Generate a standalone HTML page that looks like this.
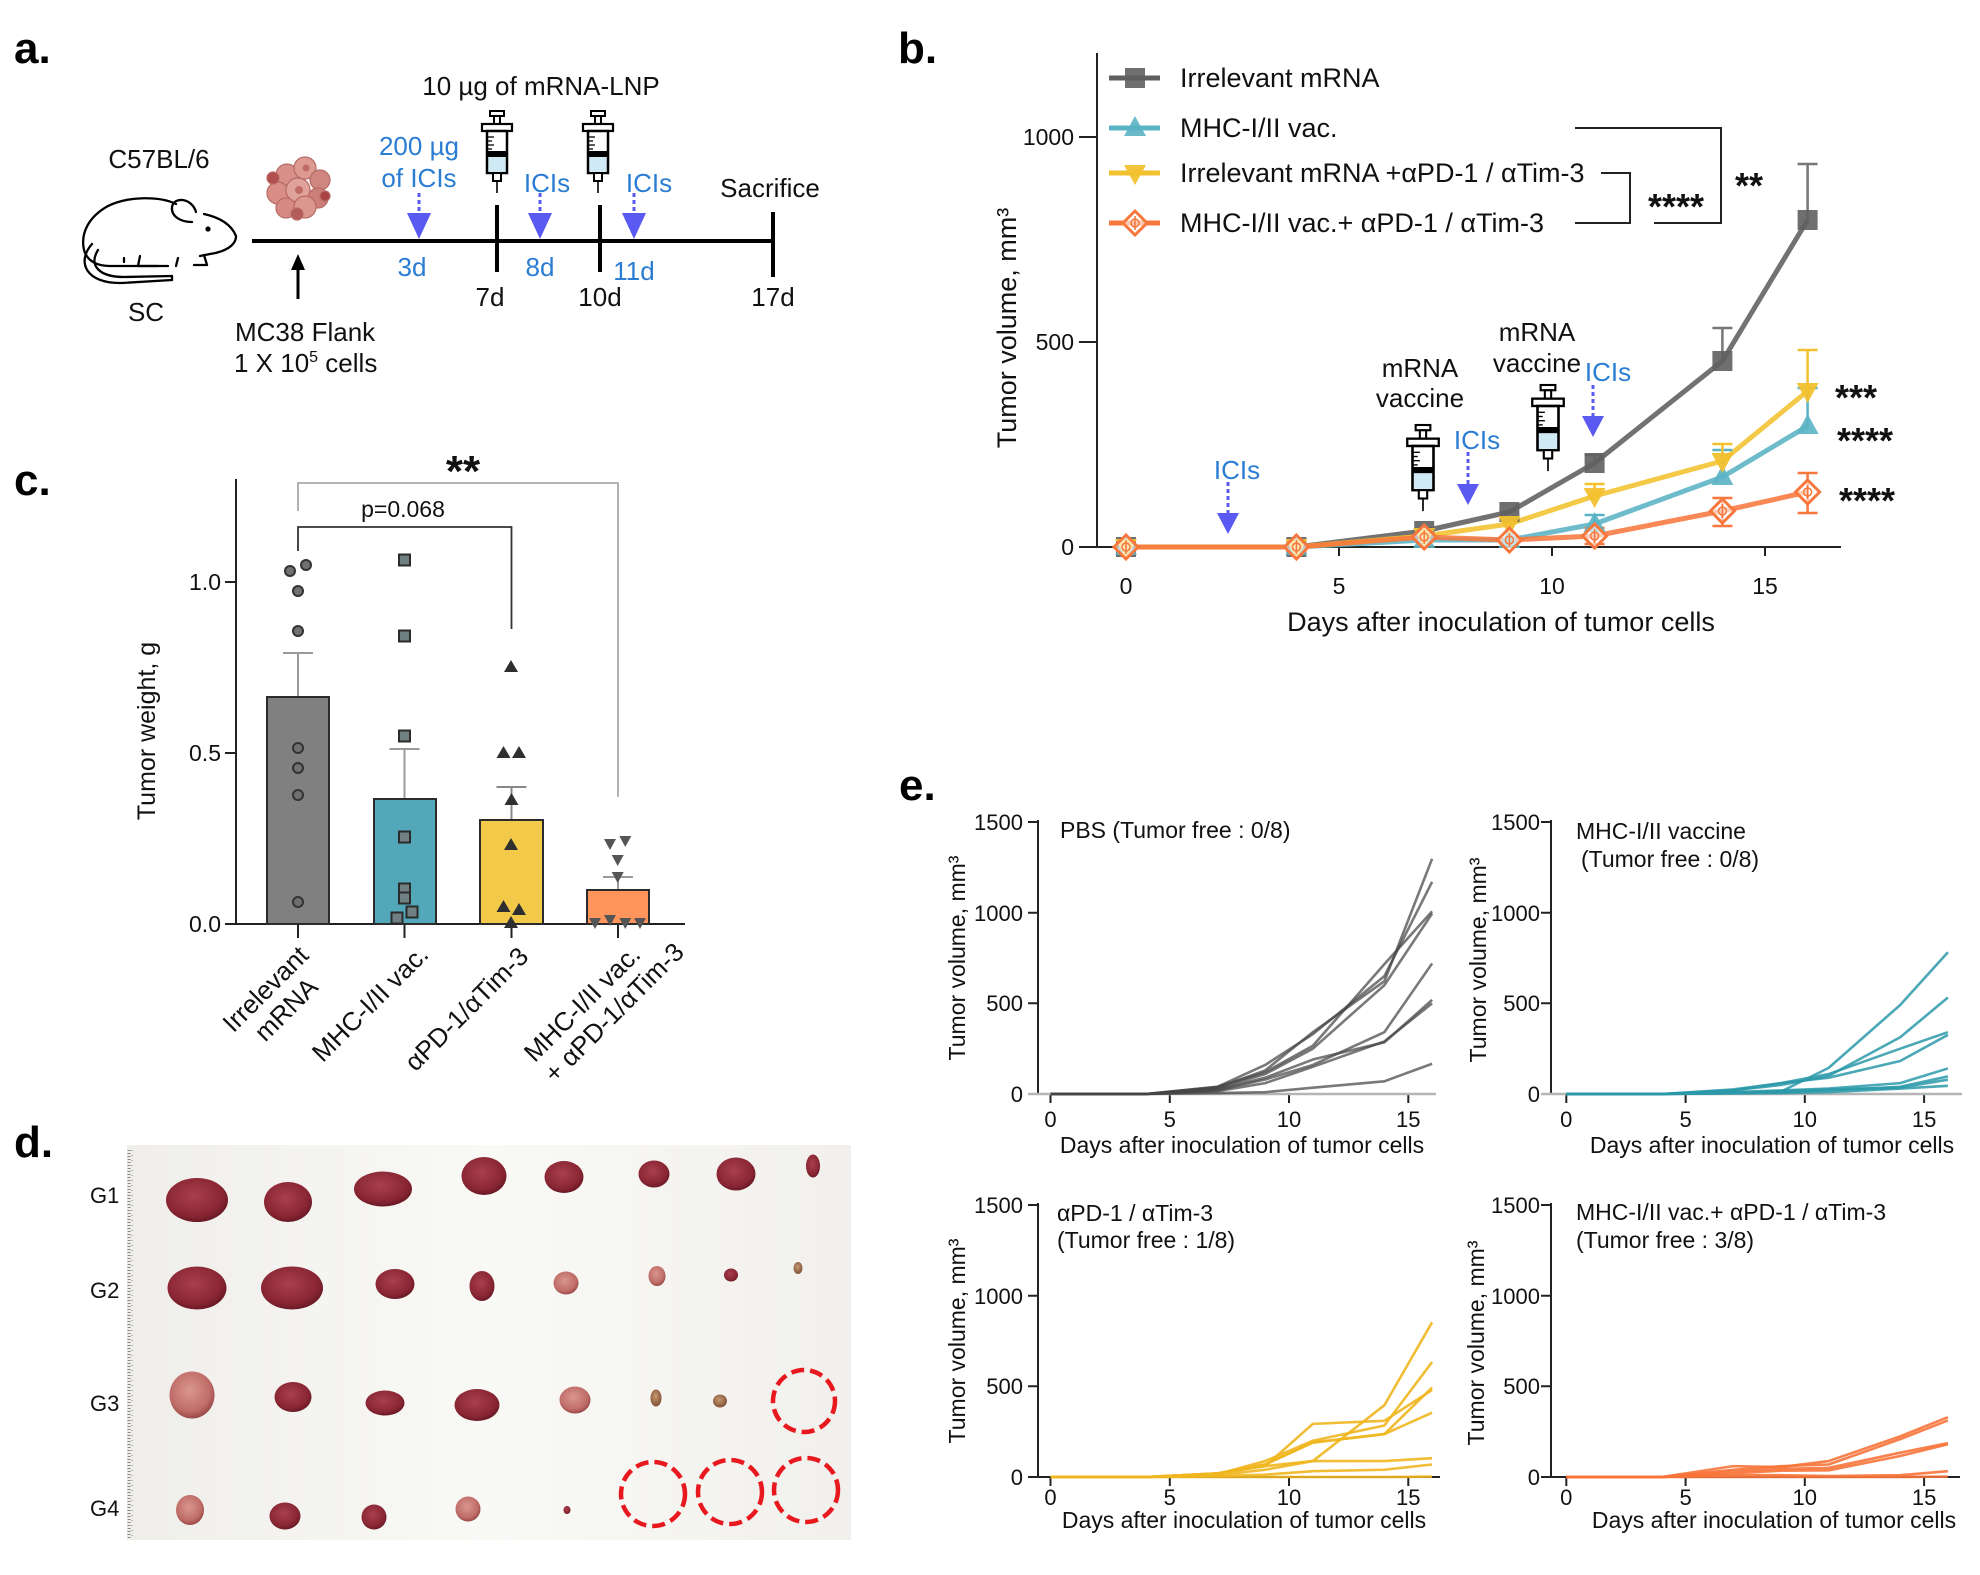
<!DOCTYPE html>
<html><head><meta charset="utf-8"><style>
html,body{margin:0;padding:0;background:#fff;}
svg{display:block;}
text{font-family:"Liberation Sans",Arial,sans-serif;}
</style></head><body>
<svg width="1980" height="1575" viewBox="0 0 1980 1575" xmlns="http://www.w3.org/2000/svg">
<defs>
  <g id="syr">
    <rect x="-7" y="0" width="14" height="5" fill="#fff" stroke="#000" stroke-width="2"/>
    <rect x="-3" y="5" width="6" height="8" fill="#fff" stroke="#000" stroke-width="2"/>
    <rect x="-15" y="13" width="30" height="7" fill="#fff" stroke="#000" stroke-width="2.2"/>
    <rect x="-10" y="20" width="20" height="42" fill="#fff" stroke="#000" stroke-width="2.5"/>
    <line x1="-9" y1="26" x2="-3" y2="26" stroke="#000" stroke-width="1.3"/>
    <line x1="-9" y1="30" x2="-5" y2="30" stroke="#000" stroke-width="1.3"/>
    <line x1="-9" y1="34" x2="-3" y2="34" stroke="#000" stroke-width="1.3"/>
    <line x1="-9" y1="38" x2="-5" y2="38" stroke="#000" stroke-width="1.3"/>
    <rect x="-10" y="40" width="20" height="6" fill="#000"/>
    <rect x="-8.5" y="46" width="17" height="15" fill="#cfe9f5"/>
    <rect x="-4" y="62" width="8" height="8" fill="#fff" stroke="#000" stroke-width="2"/>
    <line x1="0" y1="70" x2="0" y2="82" stroke="#000" stroke-width="1.6"/>
  </g>
  <rect id="mSq" x="-10" y="-10" width="20" height="20" fill="#5f5f5f" fill-opacity="0.9"/>
  <polygon id="mTri" points="0,-12 -11,8 11,8" fill="#5ab3c4" fill-opacity="0.9"/>
  <polygon id="mInv" points="-11,-8 11,-8 0,12" fill="#f2c12e" fill-opacity="0.95"/>
  <g id="mDia">
    <polygon points="0,-12 12,0 0,12 -12,0" fill="#fff" fill-opacity="0.6" stroke="#f7773d" stroke-width="3"/>
    <circle cx="0" cy="0" r="4" fill="none" stroke="#f7773d" stroke-width="1.5"/>
    <line x1="0" y1="-7" x2="0" y2="7" stroke="#f7773d" stroke-width="1.5"/>
  </g>
  <circle id="cC" r="5" fill="#707070" stroke="#333" stroke-width="2"/>
  <rect id="cS" x="-5.5" y="-5.5" width="11" height="11" fill="#6f7f82" stroke="#2b2b2b" stroke-width="2"/>
  <polygon id="cT" points="0,-7 -7,5 7,5" fill="#2f2f2f"/>
  <polygon id="cI" points="-6,-5 6,-5 0,6" fill="#555"/>
  <radialGradient id="tum" cx="0.45" cy="0.4" r="0.65">
    <stop offset="0" stop-color="#a8404d"/><stop offset="0.7" stop-color="#8a2634"/><stop offset="1" stop-color="#5e1520"/>
  </radialGradient>
  <radialGradient id="tumP" cx="0.45" cy="0.4" r="0.65">
    <stop offset="0" stop-color="#d9978d"/><stop offset="0.7" stop-color="#bf6c68"/><stop offset="1" stop-color="#8e3c3c"/>
  </radialGradient>
  <radialGradient id="tumB" cx="0.45" cy="0.4" r="0.65">
    <stop offset="0" stop-color="#c89a70"/><stop offset="1" stop-color="#7a4a30"/>
  </radialGradient>
  <linearGradient id="bg" x1="0" y1="0" x2="1" y2="0">
    <stop offset="0" stop-color="#efeeea"/><stop offset="0.5" stop-color="#f9f9f6"/><stop offset="1" stop-color="#f1f0ec"/>
  </linearGradient>
</defs>

<!-- ============ Panel labels ============ -->
<g font-weight="bold" font-size="44" fill="#000">
  <text x="14" y="63">a.</text>
  <text x="898" y="63">b.</text>
  <text x="14" y="495">c.</text>
  <text x="14" y="1157">d.</text>
  <text x="899" y="800">e.</text>
</g>

<!-- ============ Panel a ============ -->
<g font-size="26" fill="#111">
  <text x="541" y="95" text-anchor="middle">10 µg of mRNA-LNP</text>
  <text x="159" y="168" text-anchor="middle">C57BL/6</text>
  <text x="146" y="321" text-anchor="middle">SC</text>
  <text x="235" y="341">MC38 Flank</text>
  <text x="234" y="372">1 X 10<tspan dy="-10" font-size="16">5</tspan><tspan dy="10"> cells</tspan></text>
  <text x="490" y="306" text-anchor="middle">7d</text>
  <text x="600" y="306" text-anchor="middle">10d</text>
  <text x="773" y="306" text-anchor="middle">17d</text>
  <text x="770" y="197" text-anchor="middle">Sacrifice</text>
</g>
<g font-size="26" fill="#2a7dd2">
  <text x="419" y="155" text-anchor="middle">200 µg</text>
  <text x="419" y="187" text-anchor="middle">of ICIs</text>
  <text x="412" y="276" text-anchor="middle">3d</text>
  <text x="547" y="192" text-anchor="middle">ICIs</text>
  <text x="540" y="276" text-anchor="middle">8d</text>
  <text x="649" y="192" text-anchor="middle">ICIs</text>
  <text x="634" y="280" text-anchor="middle">11d</text>
</g>
<!-- timeline -->
<line x1="252" y1="241" x2="773" y2="241" stroke="#000" stroke-width="4"/>
<line x1="497" y1="205" x2="497" y2="272" stroke="#000" stroke-width="4"/>
<line x1="600" y1="205" x2="600" y2="272" stroke="#000" stroke-width="4"/>
<line x1="773" y1="212" x2="773" y2="277" stroke="#000" stroke-width="4"/>
<line x1="298" y1="299" x2="298" y2="268" stroke="#000" stroke-width="3"/>
<polygon points="291,270 305,270 298,254" fill="#000"/>
<!-- ICI arrows panel a -->
<g stroke="#5a5af2" stroke-width="3" stroke-dasharray="4 3">
  <line x1="419" y1="193" x2="419" y2="214"/>
  <line x1="540" y1="193" x2="540" y2="214"/>
  <line x1="634" y1="193" x2="634" y2="214"/>
</g>
<g fill="#5a5af2">
  <polygon points="407,213 431,213 419,239"/>
  <polygon points="528,213 552,213 540,239"/>
  <polygon points="622,213 646,213 634,239"/>
</g>
<use href="#syr" x="497" y="111"/>
<use href="#syr" x="598" y="111"/>
<!-- mouse -->
<g fill="none" stroke="#000" stroke-width="2.3" stroke-linecap="round" stroke-linejoin="round">
  <path d="M236,236 C232,226 222,218 204,214"/>
  <path d="M196,212 C192,198 174,196 172,207 C171,216 180,222 192,222"/>
  <path d="M176,204 C160,196 128,196 108,206 C90,216 80,232 84,250 C87,261 97,266 110,266 L168,266"/>
  <path d="M236,236 C236,246 224,252 210,254 L200,256"/>
  <path d="M204,255 L207,265 L194,265"/>
  <path d="M178,258 L176,266"/>
  <path d="M140,256 L138,266 L158,266"/>
  <path d="M124,262 L124,258"/>
  <path d="M92,244 C76,262 86,284 122,283 L172,280"/>
  <path d="M98,250 C88,266 100,277 124,277 L172,276"/>
  <path d="M172,276 L172,280"/>
</g>
<circle cx="208" cy="229" r="2.6" fill="#000"/>
<!-- cells -->
<g stroke="#b86a66" stroke-width="1.2">
  <circle cx="287" cy="175" r="11" fill="#d69089"/>
  <circle cx="305" cy="168" r="11" fill="#dc9a92"/>
  <circle cx="320" cy="180" r="10" fill="#cf8580"/>
  <circle cx="278" cy="193" r="11" fill="#d88d86"/>
  <circle cx="298" cy="190" r="12" fill="#e0a39b"/>
  <circle cx="318" cy="198" r="10" fill="#cc7f79"/>
  <circle cx="286" cy="208" r="10" fill="#d48a83"/>
  <circle cx="305" cy="207" r="11" fill="#db978f"/>
  <circle cx="297" cy="214" r="6" fill="#b45c58"/>
  <circle cx="273" cy="178" r="6" fill="#b3504f"/>
  <circle cx="325" cy="196" r="5" fill="#a8433f"/>
  <circle cx="299" cy="190" r="4" fill="#c06b66" stroke="none"/>
  <circle cx="306" cy="168" r="3.5" fill="#c06b66" stroke="none"/>
</g>

<!-- ============ Panel b ============ -->
<g stroke="#222" stroke-width="2" fill="none">
  <line x1="1097" y1="53" x2="1097" y2="547"/>
  <line x1="1079" y1="547" x2="1841" y2="547"/>
  <line x1="1079" y1="137" x2="1097" y2="137"/>
  <line x1="1079" y1="342" x2="1097" y2="342"/>
  <line x1="1126" y1="547" x2="1126" y2="556"/>
  <line x1="1339" y1="547" x2="1339" y2="556"/>
  <line x1="1552" y1="547" x2="1552" y2="556"/>
  <line x1="1765" y1="547" x2="1765" y2="556"/>
</g>
<g font-size="23" fill="#111">
  <text x="1074" y="145" text-anchor="end">1000</text>
  <text x="1074" y="350" text-anchor="end">500</text>
  <text x="1074" y="555" text-anchor="end">0</text>
  <text x="1126" y="594" text-anchor="middle">0</text>
  <text x="1339" y="594" text-anchor="middle">5</text>
  <text x="1552" y="594" text-anchor="middle">10</text>
  <text x="1765" y="594" text-anchor="middle">15</text>
</g>
<text x="1501" y="631" font-size="27" text-anchor="middle" fill="#111">Days after inoculation of tumor cells</text>
<text transform="translate(1016,328) rotate(-90)" font-size="27" text-anchor="middle" fill="#111">Tumor volume, mm³</text>
<!-- legend -->
<g stroke-width="5">
  <line x1="1109" y1="78" x2="1160" y2="78" stroke="#5f5f5f"/>
  <line x1="1109" y1="128" x2="1160" y2="128" stroke="#5ab3c4"/>
  <line x1="1109" y1="173" x2="1160" y2="173" stroke="#f2c12e"/>
  <line x1="1109" y1="223" x2="1160" y2="223" stroke="#f7773d"/>
</g>
<use href="#mSq" x="1135" y="78"/>
<use href="#mTri" x="1135" y="128"/>
<use href="#mInv" x="1135" y="173"/>
<use href="#mDia" x="1135" y="223"/>
<g font-size="27" fill="#111">
  <text x="1180" y="87">Irrelevant mRNA</text>
  <text x="1180" y="137">MHC-I/II vac.</text>
  <text x="1180" y="182">Irrelevant mRNA +αPD-1 / αTim-3</text>
  <text x="1180" y="232">MHC-I/II vac.+ αPD-1 / αTim-3</text>
</g>
<g stroke="#222" stroke-width="2" fill="none">
  <path d="M1575,128 H1721 V223 H1654"/>
  <path d="M1601,173 H1630 V223 H1575"/>
</g>
<g font-size="36" font-weight="bold" fill="#111">
  <text x="1676" y="219" text-anchor="middle">****</text>
  <text x="1749" y="198" text-anchor="middle">**</text>
  <text x="1835" y="410">***</text>
  <text x="1837" y="453">****</text>
  <text x="1839" y="513">****</text>
</g>
<!-- annotations -->
<g font-size="26" fill="#111">
  <text x="1420" y="377" text-anchor="middle">mRNA</text>
  <text x="1420" y="407" text-anchor="middle">vaccine</text>
  <text x="1537" y="341" text-anchor="middle">mRNA</text>
  <text x="1537" y="372" text-anchor="middle">vaccine</text>
</g>
<g font-size="26" fill="#2a7dd2">
  <text x="1237" y="479" text-anchor="middle">ICIs</text>
  <text x="1477" y="449" text-anchor="middle">ICIs</text>
  <text x="1608" y="381" text-anchor="middle">ICIs</text>
</g>
<g stroke="#5a5af2" stroke-width="3" stroke-dasharray="4 3">
  <line x1="1228" y1="482" x2="1228" y2="514"/>
  <line x1="1468" y1="452" x2="1468" y2="485"/>
  <line x1="1593" y1="385" x2="1593" y2="417"/>
</g>
<g fill="#5a5af2">
  <polygon points="1217,513 1239,513 1228,534"/>
  <polygon points="1457,484 1479,484 1468,505"/>
  <polygon points="1582,416 1604,416 1593,437"/>
</g>
<use href="#syr" transform="translate(1423,425) scale(1.05)"/>
<use href="#syr" transform="translate(1548,385) scale(1.05)"/>
<!-- series lines -->
<g fill="none" stroke-width="5" stroke-linejoin="round" stroke-opacity="0.88">
  <polyline stroke="#5f5f5f" points="1126,547 1296.4,547 1424.2,531 1509.4,512 1594.6,463 1722.4,361 1807.6,220"/>
  <polyline stroke="#5ab3c4" points="1126,547 1296.4,547 1424.2,540 1509.4,540 1594.6,524 1722.4,477 1807.6,426"/>
  <polyline stroke="#f2c12e" points="1126,547 1296.4,547 1424.2,536 1509.4,524 1594.6,496 1722.4,461 1807.6,391"/>
  <polyline stroke="#f7773d" points="1126,547 1296.4,547 1424.2,537 1509.4,540 1594.6,536 1722.4,511 1807.6,492"/>
</g>
<!-- error bars -->
<g fill="none" stroke-width="2.5">
  <path stroke="#777" d="M1594.6,463V455M1584.6,455H1604.6 M1722.4,361V328M1712.4,328H1732.4 M1807.6,220V164M1797.6,164H1817.6"/>
  <path stroke="#5ab3c4" d="M1594.6,524V515M1584.6,515H1604.6 M1722.4,477V450M1712.4,450H1732.4 M1807.6,426V388M1797.6,388H1817.6"/>
  <path stroke="#f2c12e" d="M1594.6,496V484M1584.6,484H1604.6 M1722.4,461V444M1712.4,444H1732.4 M1807.6,391V350M1797.6,350H1817.6"/>
  <path stroke="#f7773d" d="M1594.6,528V544M1584.6,528H1604.6M1584.6,544H1604.6 M1722.4,498V526M1712.4,498H1732.4M1712.4,526H1732.4 M1807.6,473V513M1797.6,473H1817.6M1797.6,513H1817.6"/>
</g>
<!-- markers -->
<use href="#mSq" x="1126" y="547"/><use href="#mSq" x="1296.4" y="547"/><use href="#mSq" x="1424.2" y="531"/><use href="#mSq" x="1509.4" y="512"/><use href="#mSq" x="1594.6" y="463"/><use href="#mSq" x="1722.4" y="361"/><use href="#mSq" x="1807.6" y="220"/>
<use href="#mTri" x="1126" y="547"/><use href="#mTri" x="1296.4" y="547"/><use href="#mTri" x="1424.2" y="540"/><use href="#mTri" x="1509.4" y="540"/><use href="#mTri" x="1594.6" y="524"/><use href="#mTri" x="1722.4" y="477"/><use href="#mTri" x="1807.6" y="426"/>
<use href="#mInv" x="1126" y="547"/><use href="#mInv" x="1296.4" y="547"/><use href="#mInv" x="1424.2" y="536"/><use href="#mInv" x="1509.4" y="524"/><use href="#mInv" x="1594.6" y="496"/><use href="#mInv" x="1722.4" y="461"/><use href="#mInv" x="1807.6" y="391"/>
<use href="#mDia" x="1126" y="547"/><use href="#mDia" x="1296.4" y="547"/><use href="#mDia" x="1424.2" y="537"/><use href="#mDia" x="1509.4" y="540"/><use href="#mDia" x="1594.6" y="536"/><use href="#mDia" x="1722.4" y="511"/><use href="#mDia" x="1807.6" y="492"/>

<!-- ============ Panel c ============ -->
<g stroke="#222" stroke-width="2" fill="none">
  <line x1="236" y1="479" x2="236" y2="924"/>
  <line x1="236" y1="924" x2="685" y2="924"/>
  <line x1="225" y1="582" x2="236" y2="582"/>
  <line x1="225" y1="753" x2="236" y2="753"/>
  <line x1="225" y1="924" x2="236" y2="924"/>
  <line x1="298" y1="924" x2="298" y2="938"/>
  <line x1="404.5" y1="924" x2="404.5" y2="938"/>
  <line x1="511.5" y1="924" x2="511.5" y2="938"/>
  <line x1="618" y1="924" x2="618" y2="938"/>
</g>
<g font-size="23" fill="#111">
  <text x="221" y="590" text-anchor="end">1.0</text>
  <text x="221" y="761" text-anchor="end">0.5</text>
  <text x="221" y="932" text-anchor="end">0.0</text>
  <text x="403" y="517" text-anchor="middle">p=0.068</text>
</g>
<text transform="translate(155,731) rotate(-90)" font-size="25" text-anchor="middle" fill="#111">Tumor weight, g</text>
<!-- error bars c -->
<g stroke="#9a9a9a" stroke-width="2" fill="none">
  <path d="M298,697V653M283,653H313"/>
  <path d="M404.5,799V749M389.5,749H419.5"/>
  <path d="M511.5,820V787M496.5,787H526.5" stroke="#888"/>
  <path d="M618,890V877M603,877H633"/>
</g>
<!-- bars -->
<g stroke="#2b2b2b" stroke-width="2">
  <rect x="267" y="697" width="62" height="227" fill="#808080"/>
  <rect x="374" y="799" width="62" height="125" fill="#52a7b8"/>
  <rect x="480" y="820" width="63" height="104" fill="#f3c94a"/>
  <rect x="587" y="890" width="62" height="34" fill="#ff955a"/>
</g>
<!-- brackets c -->
<path d="M298,551 V527 H511.5 V629" fill="none" stroke="#333" stroke-width="1.8"/>
<path d="M298,511 V483 H618 V797" fill="none" stroke="#aaa" stroke-width="1.8"/>
<text x="463" y="486" font-size="44" font-weight="bold" text-anchor="middle" fill="#111">**</text>
<!-- points c -->
<use href="#cC" x="290" y="571"/><use href="#cC" x="306" y="565"/><use href="#cC" x="298" y="591"/><use href="#cC" x="298" y="631"/><use href="#cC" x="298" y="748"/><use href="#cC" x="298" y="768"/><use href="#cC" x="298" y="795"/><use href="#cC" x="298" y="902"/>
<use href="#cS" x="404.5" y="560"/><use href="#cS" x="404.5" y="636"/><use href="#cS" x="404.5" y="736"/><use href="#cS" x="404.5" y="837"/><use href="#cS" x="404.5" y="889"/><use href="#cS" x="404.5" y="898"/><use href="#cS" x="397" y="918"/><use href="#cS" x="412" y="912"/>
<use href="#cT" x="511" y="667"/><use href="#cT" x="503.5" y="753"/><use href="#cT" x="519" y="753"/><use href="#cT" x="511.5" y="800"/><use href="#cT" x="511" y="845"/><use href="#cT" x="503.5" y="907"/><use href="#cT" x="519" y="910"/><use href="#cT" x="511" y="923"/>
<use href="#cI" x="610" y="844"/><use href="#cI" x="625.3" y="841"/><use href="#cI" x="617.7" y="860"/><use href="#cI" x="617.7" y="877"/><use href="#cI" x="595" y="923"/><use href="#cI" x="610" y="920"/><use href="#cI" x="625.3" y="923"/><use href="#cI" x="640" y="923"/>
<!-- x labels c -->
<g font-size="26" fill="#111">
  <g transform="translate(310,957) rotate(-45)">
    <text x="0" y="0" text-anchor="end">Irrelevant</text>
    <text x="-54" y="29" text-anchor="middle">mRNA</text>
  </g>
  <text transform="translate(430,956) rotate(-45)" text-anchor="end">MHC-I/II vac.</text>
  <text transform="translate(530,958) rotate(-45)" text-anchor="end">αPD-1/αTim-3</text>
  <g transform="translate(642,956) rotate(-45)">
    <text x="0" y="0" text-anchor="end">MHC-I/II vac.</text>
    <text x="-152" y="29" text-anchor="start">+ αPD-1/αTim-3</text>
  </g>
</g>

<!-- ============ Panel d ============ -->
<rect x="127" y="1145" width="724" height="395" fill="url(#bg)"/>
<line x1="129" y1="1150" x2="129" y2="1538" stroke="#888" stroke-width="3" stroke-dasharray="1 2"/>
<line x1="132" y1="1150" x2="132" y2="1538" stroke="#aaa" stroke-width="1.5" stroke-dasharray="1 4"/>
<g font-size="22" fill="#111">
  <text x="90" y="1203">G1</text>
  <text x="90" y="1298">G2</text>
  <text x="90" y="1411">G3</text>
  <text x="90" y="1516">G4</text>
</g>
<g>
  <ellipse cx="197" cy="1200" rx="31" ry="22" fill="url(#tum)"/>
  <ellipse cx="288" cy="1202" rx="24" ry="20" fill="url(#tum)"/>
  <ellipse cx="383" cy="1189" rx="29" ry="17.5" fill="url(#tum)"/>
  <ellipse cx="484" cy="1176" rx="22.5" ry="19" fill="url(#tum)"/>
  <ellipse cx="564" cy="1177" rx="19.5" ry="16" fill="url(#tum)"/>
  <ellipse cx="654" cy="1174" rx="15.5" ry="13.5" fill="url(#tum)"/>
  <ellipse cx="736" cy="1174" rx="19.5" ry="16.5" fill="url(#tum)"/>
  <ellipse cx="813" cy="1166" rx="7" ry="11.5" fill="url(#tum)"/>

  <ellipse cx="197" cy="1288" rx="29.5" ry="21.5" fill="url(#tum)"/>
  <ellipse cx="292" cy="1288" rx="31" ry="21.5" fill="url(#tum)"/>
  <ellipse cx="395" cy="1284" rx="19.5" ry="15" fill="url(#tum)"/>
  <ellipse cx="482" cy="1286" rx="12.5" ry="15" fill="url(#tum)"/>
  <ellipse cx="566" cy="1283" rx="12.5" ry="11.5" fill="url(#tumP)"/>
  <ellipse cx="657" cy="1276" rx="8.5" ry="10" fill="url(#tumP)"/>
  <ellipse cx="731" cy="1275" rx="7" ry="6.5" fill="url(#tum)"/>
  <ellipse cx="798" cy="1268" rx="4.5" ry="6" fill="url(#tumB)"/>

  <ellipse cx="192" cy="1395" rx="22.5" ry="23.5" fill="url(#tumP)"/>
  <ellipse cx="293" cy="1397" rx="18.5" ry="15" fill="url(#tum)"/>
  <ellipse cx="385" cy="1403" rx="19.5" ry="12.5" fill="url(#tum)"/>
  <ellipse cx="477" cy="1405" rx="22.5" ry="16" fill="url(#tum)"/>
  <ellipse cx="575" cy="1400" rx="15.5" ry="13.5" fill="url(#tumP)"/>
  <ellipse cx="656" cy="1398" rx="5.5" ry="8.5" fill="url(#tumB)"/>
  <ellipse cx="720" cy="1401" rx="7" ry="6.5" fill="url(#tumB)"/>

  <ellipse cx="190" cy="1510" rx="14" ry="15" fill="url(#tumP)"/>
  <ellipse cx="285" cy="1516" rx="15.5" ry="13.5" fill="url(#tum)"/>
  <ellipse cx="374" cy="1517" rx="12.5" ry="12.5" fill="url(#tum)"/>
  <ellipse cx="468" cy="1509" rx="12.5" ry="12.5" fill="url(#tumP)"/>
  <ellipse cx="567" cy="1510" rx="3.5" ry="4" fill="url(#tum)"/>
</g>
<g fill="none" stroke="#e8191e" stroke-width="4.5" stroke-dasharray="13 6">
  <circle cx="804" cy="1401" r="31"/>
  <circle cx="653" cy="1494" r="32"/>
  <circle cx="730" cy="1492" r="32"/>
  <circle cx="806" cy="1490" r="32"/>
</g>

<!-- ============ Panel e ============ -->
<!-- axes -->
<g stroke="#222" stroke-width="2" fill="none">
  <!-- top-left -->
  <line x1="1038" y1="820" x2="1038" y2="1094"/>
  <path d="M1028,822H1038M1028,912.7H1038M1028,1003.3H1038"/>
  <path d="M1050.5,1094V1103M1169.8,1094V1103M1289,1094V1103M1408.3,1094V1103"/>
  <!-- top-right -->
  <line x1="1551" y1="820" x2="1551" y2="1094"/>
  <path d="M1541,822H1551M1541,912.7H1551M1541,1003.3H1551"/>
  <path d="M1566.3,1094V1103M1685.6,1094V1103M1804.8,1094V1103M1924.1,1094V1103"/>
  <!-- bottom-left -->
  <line x1="1038" y1="1203" x2="1038" y2="1477"/>
  <path d="M1028,1205H1038M1028,1295.7H1038M1028,1386.3H1038"/>
  <line x1="1028" y1="1477" x2="1440" y2="1477"/>
  <path d="M1050.5,1477V1486M1169.8,1477V1486M1289,1477V1486M1408.3,1477V1486"/>
  <!-- bottom-right -->
  <line x1="1551" y1="1203" x2="1551" y2="1477"/>
  <path d="M1541,1205H1551M1541,1295.7H1551M1541,1386.3H1551"/>
  <line x1="1541" y1="1477" x2="1960" y2="1477"/>
  <path d="M1566.3,1477V1486M1685.6,1477V1486M1804.8,1477V1486M1924.1,1477V1486"/>
</g>
<line x1="1028" y1="1094" x2="1436" y2="1094" stroke="#b5b5b5" stroke-width="2.5"/>
<line x1="1541" y1="1094" x2="1962" y2="1094" stroke="#b5b5b5" stroke-width="2.5"/>
<g font-size="22" fill="#111">
  <text x="1023" y="830" text-anchor="end">1500</text><text x="1023" y="921" text-anchor="end">1000</text><text x="1023" y="1011" text-anchor="end">500</text><text x="1023" y="1102" text-anchor="end">0</text>
  <text x="1540" y="830" text-anchor="end">1500</text><text x="1540" y="921" text-anchor="end">1000</text><text x="1540" y="1011" text-anchor="end">500</text><text x="1540" y="1102" text-anchor="end">0</text>
  <text x="1023" y="1213" text-anchor="end">1500</text><text x="1023" y="1304" text-anchor="end">1000</text><text x="1023" y="1394" text-anchor="end">500</text><text x="1023" y="1485" text-anchor="end">0</text>
  <text x="1540" y="1213" text-anchor="end">1500</text><text x="1540" y="1304" text-anchor="end">1000</text><text x="1540" y="1394" text-anchor="end">500</text><text x="1540" y="1485" text-anchor="end">0</text>

  <text x="1050.5" y="1127" text-anchor="middle">0</text><text x="1169.8" y="1127" text-anchor="middle">5</text><text x="1289" y="1127" text-anchor="middle">10</text><text x="1408.3" y="1127" text-anchor="middle">15</text>
  <text x="1566.3" y="1127" text-anchor="middle">0</text><text x="1685.6" y="1127" text-anchor="middle">5</text><text x="1804.8" y="1127" text-anchor="middle">10</text><text x="1924.1" y="1127" text-anchor="middle">15</text>
  <text x="1050.5" y="1505" text-anchor="middle">0</text><text x="1169.8" y="1505" text-anchor="middle">5</text><text x="1289" y="1505" text-anchor="middle">10</text><text x="1408.3" y="1505" text-anchor="middle">15</text>
  <text x="1566.3" y="1505" text-anchor="middle">0</text><text x="1685.6" y="1505" text-anchor="middle">5</text><text x="1804.8" y="1505" text-anchor="middle">10</text><text x="1924.1" y="1505" text-anchor="middle">15</text>
</g>
<g font-size="23" fill="#111">
  <text x="1242" y="1153" text-anchor="middle">Days after inoculation of tumor cells</text>
  <text x="1772" y="1153" text-anchor="middle">Days after inoculation of tumor cells</text>
  <text x="1244" y="1528" text-anchor="middle">Days after inoculation of tumor cells</text>
  <text x="1774" y="1528" text-anchor="middle">Days after inoculation of tumor cells</text>
  <text transform="translate(965,958) rotate(-90)" text-anchor="middle">Tumor volume, mm³</text>
  <text transform="translate(1486,960) rotate(-90)" text-anchor="middle">Tumor volume, mm³</text>
  <text transform="translate(965,1341) rotate(-90)" text-anchor="middle">Tumor volume, mm³</text>
  <text transform="translate(1484,1343) rotate(-90)" text-anchor="middle">Tumor volume, mm³</text>
  <text x="1060" y="838">PBS (Tumor free : 0/8)</text>
  <text x="1576" y="839">MHC-I/II vaccine</text>
  <text x="1581" y="867"> (Tumor free : 0/8)</text>
  <text x="1057" y="1221">αPD-1 / αTim-3</text>
  <text x="1057" y="1248">(Tumor free : 1/8)</text>
  <text x="1576" y="1220">MHC-I/II vac.+ αPD-1 / αTim-3</text>
  <text x="1576" y="1248">(Tumor free : 3/8)</text>
</g>
<!-- PBS lines -->
<g transform="translate(1050.5,1094) scale(23.85,-0.18133)" fill="none" stroke="#454545" stroke-opacity="0.72" stroke-width="2.6" stroke-linejoin="round">
  <polyline vector-effect="non-scaling-stroke" points="0,0 4,0 7,35 9,130 11,341 14,622 16,1297"/>
  <polyline vector-effect="non-scaling-stroke" points="0,0 4,0 7,40 9,160 11,330 14,650 16,1170"/>
  <polyline vector-effect="non-scaling-stroke" points="0,0 4,0 7,40 9,120 11,266 14,716 16,1007"/>
  <polyline vector-effect="non-scaling-stroke" points="0,0 4,0 7,30 9,110 11,250 14,600 16,995"/>
  <polyline vector-effect="non-scaling-stroke" points="0,0 4,0 7,20 9,80 11,160 14,341 16,720"/>
  <polyline vector-effect="non-scaling-stroke" points="0,0 4,0 7,25 9,90 11,190 14,285 16,519"/>
  <polyline vector-effect="non-scaling-stroke" points="0,0 4,0 7,15 9,60 11,150 14,290 16,500"/>
  <polyline vector-effect="non-scaling-stroke" points="0,0 4,0 7,5 9,10 11,35 14,70 16,167"/>
</g>
<!-- teal lines -->
<g transform="translate(1566.3,1094) scale(23.85,-0.18133)" fill="none" stroke="#2c99a9" stroke-opacity="0.85" stroke-width="2.6" stroke-linejoin="round">
  <polyline vector-effect="non-scaling-stroke" points="0,0 4,0 7,5 9,13 11,144 14,491 16,782"/>
  <polyline vector-effect="non-scaling-stroke" points="0,0 4,0 7,20 9,50 11,100 14,313 16,532"/>
  <polyline vector-effect="non-scaling-stroke" points="0,0 4,0 7,25 9,60 11,110 14,250 16,341"/>
  <polyline vector-effect="non-scaling-stroke" points="0,0 4,0 7,20 9,60 11,90 14,182 16,326"/>
  <polyline vector-effect="non-scaling-stroke" points="0,0 4,0 7,10 9,20 11,30 14,60 16,141"/>
  <polyline vector-effect="non-scaling-stroke" points="0,0 4,0 7,5 9,10 11,20 14,40 16,97"/>
  <polyline vector-effect="non-scaling-stroke" points="0,0 4,0 7,8 9,15 11,25 14,35 16,79"/>
  <polyline vector-effect="non-scaling-stroke" points="0,0 4,0 7,3 9,5 11,10 14,30 16,45"/>
</g>
<!-- yellow lines -->
<g transform="translate(1050.5,1477) scale(23.85,-0.18133)" fill="none" stroke="#efb61f" stroke-opacity="0.9" stroke-width="2.6" stroke-linejoin="round">
  <polyline vector-effect="non-scaling-stroke" points="0,0 4,0 7,20 9,60 11,88 14,396 16,853"/>
  <polyline vector-effect="non-scaling-stroke" points="0,0 4,0 7,15 9,88 11,200 14,284 16,634"/>
  <polyline vector-effect="non-scaling-stroke" points="0,0 4,0 7,20 9,70 11,190 14,237 16,493"/>
  <polyline vector-effect="non-scaling-stroke" points="0,0 4,0 7,20 9,60 11,293 14,310 16,480"/>
  <polyline vector-effect="non-scaling-stroke" points="0,0 4,0 7,20 9,69 11,190 14,237 16,355"/>
  <polyline vector-effect="non-scaling-stroke" points="0,0 4,0 7,10 9,40 11,88 14,88 16,104"/>
  <polyline vector-effect="non-scaling-stroke" points="0,0 4,0 7,5 9,13 11,32 14,40 16,69"/>
  <polyline vector-effect="non-scaling-stroke" points="0,0 4,0 7,0 9,0 11,0 14,0 16,2"/>
</g>
<!-- orange lines -->
<g transform="translate(1566.3,1477) scale(23.85,-0.18133)" fill="none" stroke="#f7743a" stroke-opacity="0.9" stroke-width="2.6" stroke-linejoin="round">
  <polyline vector-effect="non-scaling-stroke" points="0,0 4,0 7,60 9,55 11,88 14,224 16,330"/>
  <polyline vector-effect="non-scaling-stroke" points="0,0 4,0 7,40 9,60 11,69 14,209 16,312"/>
  <polyline vector-effect="non-scaling-stroke" points="0,0 4,0 7,30 9,45 11,50 14,134 16,187"/>
  <polyline vector-effect="non-scaling-stroke" points="0,0 4,0 7,20 9,35 11,37 14,116 16,181"/>
  <polyline vector-effect="non-scaling-stroke" points="0,0 4,0 7,10 9,10 11,5 14,10 16,32"/>
  <polyline vector-effect="non-scaling-stroke" points="0,0 4,0 7,0 9,0 11,0 14,0 16,2"/>
</g>
</svg>
</body></html>
